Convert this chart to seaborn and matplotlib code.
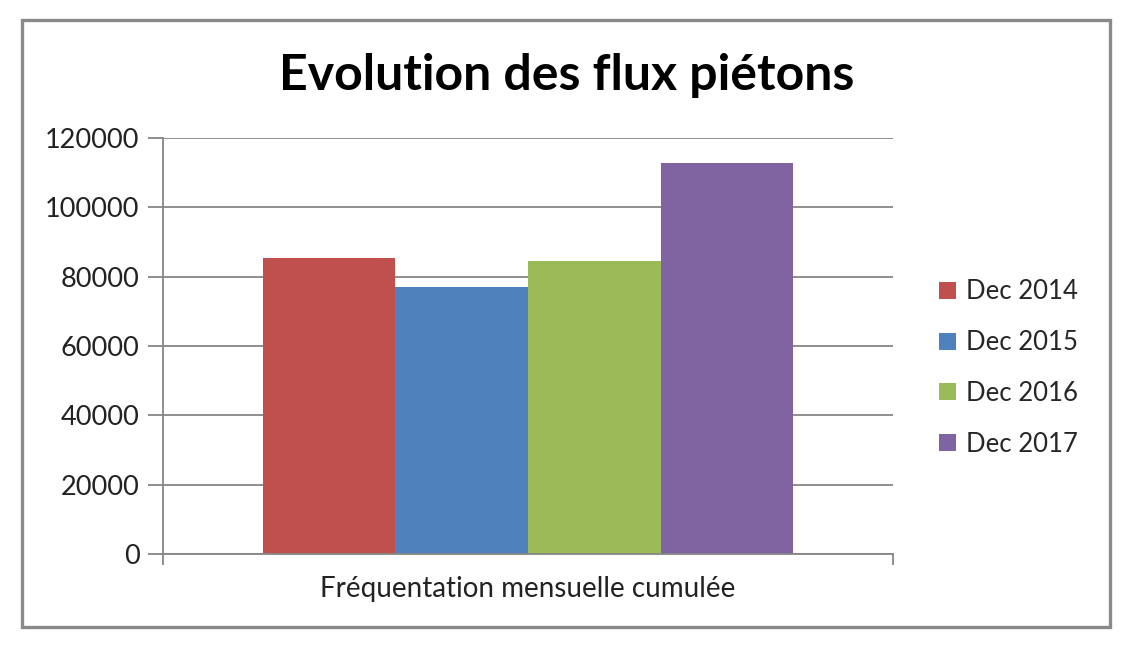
import matplotlib
matplotlib.use("Agg")
import matplotlib.pyplot as plt
import seaborn as sns
import pandas as pd
from matplotlib.patches import Rectangle

category = ["Fréquentation mensuelle cumulée"]
years = ["Dec 2014", "Dec 2015", "Dec 2016", "Dec 2017"]
values = [85400, 76900, 84600, 112900]
colors = ["#C0504D", "#4F81BD", "#9BBB59", "#8064A2"]
yticks = [0, 20000, 40000, 60000, 80000, 100000, 120000]
title = "Evolution des flux piétons"

df = pd.DataFrame({"cat": category * len(years), "year": years, "val": values})

sns.set_theme(style="white")
plt.rcParams["font.family"] = ["Lato", "DejaVu Sans"]

W, H = 1135, 649
fig = plt.figure(figsize=(W / 100, H / 100), dpi=100)
fig.patch.set_facecolor("white")
ax = fig.add_axes([163 / W, 1 - 554 / H, (893 - 163) / W, (554 - 138) / H])

sns.barplot(data=df, x="cat", y="val", hue="year", palette=colors, width=0.727,
            saturation=1, ax=ax, legend=False, linewidth=0)

ax.set_xlim(-0.5, 0.5)
ax.set_ylim(0, 120000)
ax.set_yticks(yticks)
ax.set_yticklabels([str(v) for v in yticks], fontsize=19.5, color="#222222")
ax.yaxis.grid(True, color="#868686", linewidth=1.3)
ax.set_axisbelow(True)
ax.set_xlabel("")
ax.set_ylabel("")
for s in ["top", "right"]:
    ax.spines[s].set_visible(False)
for s in ["left", "bottom"]:
    ax.spines[s].set_color("#868686")
    ax.spines[s].set_linewidth(1.3)
ax.tick_params(axis="y", left=True, length=11, width=1.3, color="#868686", pad=6)
ax.set_xticks([-0.5, 0.5])
ax.set_xticklabels(["", ""])
ax.tick_params(axis="x", bottom=True, length=8, width=1.3, color="#868686")
ax.set_xticks([0], minor=True)
ax.set_xticklabels(category, minor=True, fontsize=20, color="#222222")
ax.tick_params(axis="x", which="minor", length=0, pad=16)

fig.suptitle(title, x=567 / W, y=1 - 75 / H, va="center", fontsize=36,
             fontweight="bold", color="#000000")

handles = [Rectangle((0, 0), 1, 1, facecolor=c, edgecolor="none") for c in colors]
fig.legend(handles, years, loc="center left", bbox_to_anchor=(939 / W, 1 - 368 / H),
           frameon=False, fontsize=18.5, handlelength=0.65, handleheight=0.65,
           handletextpad=0.4, labelspacing=1.0, borderpad=0, borderaxespad=0)

fig.patches.append(Rectangle((22 / W, 1 - 627 / H), (1110 - 22) / W, (627 - 20) / H,
                             transform=fig.transFigure, fill=False,
                             edgecolor="#8a8a8a", linewidth=2.4))

fig.savefig("out.png", dpi=100)
